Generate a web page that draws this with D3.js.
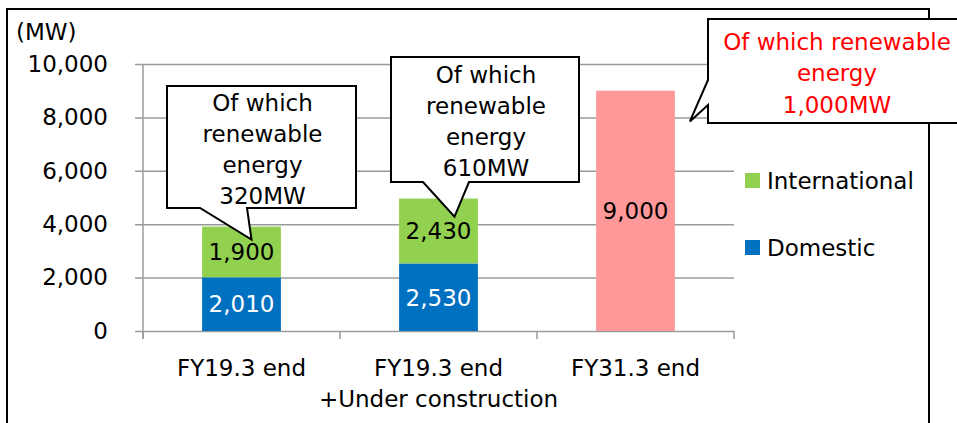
<!DOCTYPE html>
<html>
<head>
<meta charset="utf-8">
<script src="https://cdn.jsdelivr.net/npm/d3@7"></script>
<style>
  body { margin: 0; background: #fff; }
  svg { display: block; font-family: "DejaVu Sans", sans-serif; }
</style>
</head>
<body>
<main></main>
<script>
const w = 957;
const h = 423;
const fontSize = 23;

const categories = ["FY19.3 end", "FY19.3 end", "FY31.3 end"];
const subLabels = ["", "+Under construction", ""];
const domestic = [2010, 2530, 0];
const international = [1900, 2430, 0];
const target = [0, 0, 9000];
const yTicks = [0, 2000, 4000, 6000, 8000, 10000];
const legendNames = ["International", "Domestic"];
const calloutLines = [
    ["Of which", "renewable", "energy", "320MW"],
    ["Of which", "renewable", "energy", "610MW"],
    ["Of which renewable", "energy", "1,000MW"]
];

const green = "#92D050";
const blue = "#0070C0";
const pink = "#FF9999";
const gridColor = "#9a9a9a";

const plotLeft = 143, plotRight = 734, plotTop = 64, plotBottom = 331;

const xScale = d3.scaleBand()
    .domain(d3.range(categories.length))
    .range([plotLeft, plotRight]);

const yScale = d3.scaleLinear()
    .domain([0, 10000])
    .range([plotBottom, plotTop]);

const barW = xScale.bandwidth() * 0.4;
const barX = i => xScale(i) + (xScale.bandwidth() - barW) / 2;
const mid = i => xScale(i) + xScale.bandwidth() / 2;

const svg = d3.select("main")
    .append("svg")
    .attr("width", w)
    .attr("height", h);

// outer frame
svg.append("rect")
    .attr("x", 7).attr("y", 9)
    .attr("width", 922).attr("height", 440)
    .attr("fill", "#fff")
    .attr("stroke", "#000")
    .attr("stroke-width", 2);

// y axis with grid
const yAxis = d3.axisLeft(yScale)
    .tickValues(yTicks)
    .tickSizeInner(-(plotRight - 135))
    .tickSizeOuter(0)
    .tickPadding(27)
    .tickFormat(d3.format(","));

const gy = svg.append("g")
    .attr("transform", "translate(135,0)")
    .call(yAxis);
gy.select(".domain").remove();
gy.selectAll(".tick line")
    .attr("stroke", gridColor)
    .attr("stroke-width", 1.5);
gy.selectAll(".tick text")
    .attr("font-size", fontSize)
    .attr("font-family", "DejaVu Sans")
    .attr("fill", "#000");

// vertical axis line
svg.append("line")
    .attr("x1", plotLeft).attr("x2", plotLeft)
    .attr("y1", plotTop).attr("y2", plotBottom + 8)
    .attr("stroke", gridColor)
    .attr("stroke-width", 1.5);

// category boundary ticks
svg.selectAll(".xtick")
    .data(d3.range(categories.length + 1))
    .enter()
    .append("line")
    .attr("class", "xtick")
    .attr("x1", i => plotLeft + i * xScale.step())
    .attr("x2", i => plotLeft + i * xScale.step())
    .attr("y1", plotBottom)
    .attr("y2", plotBottom + 8)
    .attr("stroke", gridColor)
    .attr("stroke-width", 1.5);

svg.append("text")
    .attr("x", 16).attr("y", 40)
    .attr("font-size", fontSize)
    .text("(MW)");

// bars
svg.selectAll(".dom")
    .data(domestic)
    .enter()
    .append("rect")
    .attr("x", (d, i) => barX(i))
    .attr("y", d => yScale(d))
    .attr("width", barW)
    .attr("height", d => plotBottom - yScale(d))
    .attr("fill", blue);

svg.selectAll(".intl")
    .data(international)
    .enter()
    .append("rect")
    .attr("x", (d, i) => barX(i))
    .attr("y", (d, i) => yScale(d + domestic[i]))
    .attr("width", barW)
    .attr("height", d => plotBottom - yScale(d))
    .attr("fill", green);

svg.selectAll(".tgt")
    .data(target)
    .enter()
    .append("rect")
    .attr("x", (d, i) => barX(i))
    .attr("y", d => yScale(d))
    .attr("width", barW)
    .attr("height", d => plotBottom - yScale(d))
    .attr("fill", pink);

// value labels
const valueLabel = (val, base, i, color) => {
    if (!val) return;
    svg.append("text")
        .attr("x", mid(i))
        .attr("y", (yScale(base) + yScale(base + val)) / 2)
        .attr("dy", "0.36em")
        .attr("text-anchor", "middle")
        .attr("font-size", fontSize)
        .attr("fill", color)
        .text(d3.format(",")(val));
};
domestic.forEach((d, i) => valueLabel(d, 0, i, "#fff"));
international.forEach((d, i) => valueLabel(d, domestic[i], i, "#000"));
target.forEach((d, i) => valueLabel(d, 0, i, "#000"));

// category labels
categories.forEach((c, i) => {
    svg.append("text")
        .attr("x", mid(i)).attr("y", 376)
        .attr("text-anchor", "middle")
        .attr("font-size", fontSize)
        .text(c);
    if (subLabels[i]) {
        svg.append("text")
            .attr("x", mid(i)).attr("y", 407)
            .attr("text-anchor", "middle")
            .attr("font-size", fontSize)
            .text(subLabels[i]);
    }
});

// legend
legendNames.forEach((name, i) => {
    const ly = 181 + i * 67;
    svg.append("rect")
        .attr("x", 745).attr("y", ly - 8)
        .attr("width", 15).attr("height", 15)
        .attr("fill", i === 0 ? green : blue);
    svg.append("text")
        .attr("x", 767).attr("y", ly)
        .attr("dy", "0.36em")
        .attr("font-size", fontSize)
        .text(name);
});

// callouts
const boxes = [
    {x0: 167, y0: 86, x1: 356, y1: 208, bl: 200, br: 247, tx: mid(0) + 10, ty: yScale(domestic[0] + international[0]) + 13},
    {x0: 391, y0: 57, x1: 579, y1: 182, bl: 423, br: 469, tx: mid(1) + 16, ty: yScale(domestic[1] + international[1]) + 18}
];
boxes.forEach((b, k) => {
    const p = `M${b.x0},${b.y0}H${b.x1}V${b.y1}H${b.br}L${b.tx},${b.ty}L${b.bl},${b.y1}H${b.x0}Z`;
    svg.append("path")
        .attr("d", p)
        .attr("fill", "#fff")
        .attr("stroke", "#000")
        .attr("stroke-width", 2)
        .attr("stroke-linejoin", "miter");
    const lines = calloutLines[k];
    const cy = (b.y0 + b.y1) / 2 + 2;
    const lh = 31;
    lines.forEach((t, j) => {
        svg.append("text")
            .attr("x", (b.x0 + b.x1) / 2 + 1)
            .attr("y", cy + (j - (lines.length - 1) / 2) * lh)
            .attr("dy", "0.36em")
            .attr("text-anchor", "middle")
            .attr("font-size", fontSize)
            .text(t);
    });
});

// third callout, pointing left at the target bar
const c3 = {x0: 708, y0: 19, x1: 968, y1: 123, bt: 80, bb: 105, tx: barX(2) + barW + 15, ty: yScale(8000) + 4};
svg.append("path")
    .attr("d", `M${c3.x0},${c3.y0}H${c3.x1}V${c3.y1}H${c3.x0}V${c3.bb}L${c3.tx},${c3.ty}L${c3.x0},${c3.bt}Z`)
    .attr("fill", "#fff")
    .attr("stroke", "#000")
    .attr("stroke-width", 2);
calloutLines[2].forEach((t, j) => {
    svg.append("text")
        .attr("x", 837)
        .attr("y", 73 + (j - 1) * 31.5)
        .attr("dy", "0.36em")
        .attr("text-anchor", "middle")
        .attr("font-size", fontSize)
        .attr("fill", "#FF0000")
        .text(t);
});
</script>
</body>
</html>
